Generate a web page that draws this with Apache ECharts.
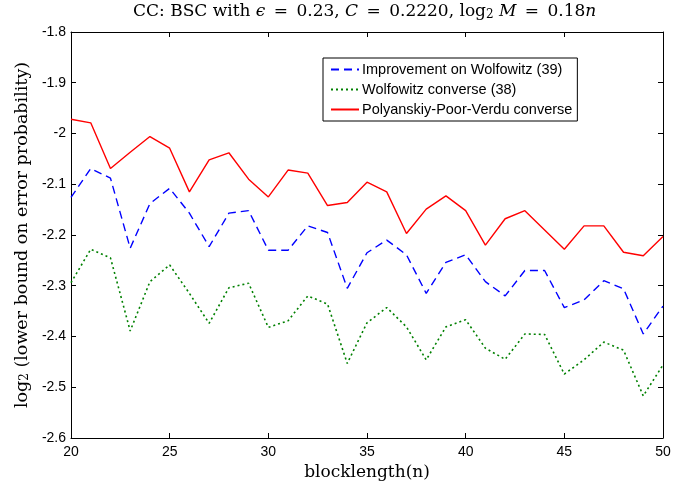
<!DOCTYPE html>
<html>
<head>
<meta charset="utf-8">
<script src="https://cdn.jsdelivr.net/npm/echarts@6/dist/echarts.min.js"></script>
<style>
html,body{margin:0;padding:0;background:#fff;}
#chart{width:697px;height:486px;}
</style>
</head>
<body>
<div id="chart"></div>
<script>
var blocklength = [20,21,22,23,24,25,26,27,28,29,30,31,32,33,34,35,36,37,38,39,40,41,42,43,44,45,46,47,48,49,50];
var improvement = [-2.126,-2.069,-2.088,-2.226,-2.138,-2.108,-2.157,-2.223,-2.157,-2.152,-2.230,-2.230,-2.182,-2.195,-2.305,-2.235,-2.210,-2.239,-2.315,-2.254,-2.239,-2.292,-2.320,-2.270,-2.270,-2.343,-2.328,-2.290,-2.306,-2.395,-2.340];
var wolfowitz = [-2.294,-2.228,-2.245,-2.389,-2.292,-2.259,-2.315,-2.374,-2.304,-2.295,-2.382,-2.369,-2.320,-2.336,-2.453,-2.373,-2.343,-2.381,-2.446,-2.381,-2.367,-2.423,-2.445,-2.395,-2.396,-2.474,-2.446,-2.411,-2.427,-2.517,-2.456];
var ppv = [-1.972,-1.979,-2.069,-2.037,-2.006,-2.029,-2.115,-2.052,-2.038,-2.090,-2.125,-2.072,-2.078,-2.142,-2.136,-2.096,-2.115,-2.197,-2.149,-2.123,-2.152,-2.220,-2.168,-2.152,-2.190,-2.228,-2.182,-2.182,-2.234,-2.241,-2.203];
var seriesNames = ['Improvement on Wolfowitz (39)','Wolfowitz converse (38)','Polyanskiy-Poor-Verdu converse'];

function pairs(ys){ return blocklength.map(function(x,i){ return [x, ys[i]]; }); }

var serif = 'DejaVu Serif';
var sans = 'Liberation Sans';
var axisCommon = {
  axisLine:{show:true,onZero:false,lineStyle:{color:'#000',width:1}},
  axisTick:{show:true,inside:true,length:5,lineStyle:{color:'#000',width:1}},
  splitLine:{show:false}
};
var chart = echarts.init(document.getElementById('chart'));
chart.setOption({
  animation:false,
  backgroundColor:'#fff',
  title:{
    text:'{n|CC: BSC with }{i|ϵ}{n| }{e|=}{n| 0.23, }{i|C}{n| }{e|=}{n| 0.2220, log}{s|2}{n| }{i|M}{n| }{e|=}{n| 0.18}{i|n}',
    left:133, top:3, padding:0,
    textStyle:{
      fontWeight:'normal',
      rich:{
        n:{fontFamily:serif,fontSize:17,fontWeight:'normal',color:'#000'},
        e:{fontFamily:serif,fontSize:17,fontWeight:'normal',color:'#000',padding:[0,3,0,3]},
        i:{fontFamily:serif,fontSize:17,fontWeight:'normal',fontStyle:'italic',color:'#000'},
        s:{fontFamily:serif,fontSize:12,fontWeight:'normal',color:'#000',verticalAlign:'bottom',padding:[6,0,0,0]}
      }
    }
  },
  legend:{
    orient:'vertical', left:323, top:58,
    backgroundColor:'#fff', borderColor:'#000', borderWidth:1, borderRadius:0,
    padding:[4,5,4,7], itemWidth:28, itemHeight:14, itemGap:5,
    itemStyle:{opacity:0},
    textStyle:{fontFamily:sans,fontSize:14.5,color:'#000',padding:[0,0,0,-2]},
    data:seriesNames
  },
  grid:{left:71,top:32,right:34,bottom:48,containLabel:false},
  xAxis:[
    Object.assign({type:'value',position:'bottom',min:20,max:50,interval:5,
      name:'blocklength(n)',nameLocation:'middle',nameGap:22,
      nameTextStyle:{fontFamily:serif,fontSize:17,color:'#000'},
      axisLabel:{fontFamily:sans,fontSize:14,color:'#000',margin:7}},axisCommon),
    Object.assign({type:'value',position:'top',min:20,max:50,interval:5,
      axisLabel:{show:false}},axisCommon)
  ],
  yAxis:[
    Object.assign({type:'value',position:'left',min:-2.6,max:-1.8,interval:0.1,
      name:'{n|log}{s|2}{n| (lower bound on error probability)}',nameLocation:'middle',nameGap:23,nameRotate:90,
      nameTextStyle:{rich:{
        n:{fontFamily:serif,fontSize:17.5,color:'#000'},
        s:{fontFamily:serif,fontSize:12,color:'#000',verticalAlign:'bottom',padding:[6,0,0,0]}
      }},
      axisLabel:{fontFamily:sans,fontSize:14,color:'#000',margin:5}},axisCommon),
    Object.assign({type:'value',position:'right',min:-2.6,max:-1.8,interval:0.1,
      axisLabel:{show:false}},axisCommon)
  ],
  series:[
    {name:seriesNames[0],type:'line',data:pairs(improvement),showSymbol:false,symbol:'none',
     lineStyle:{color:'#0000ff',width:1.4,type:[8,5]},itemStyle:{color:'#0000ff'}},
    {name:seriesNames[1],type:'line',data:pairs(wolfowitz),showSymbol:false,symbol:'none',
     lineStyle:{color:'#008000',width:1.6,type:[2,3]},itemStyle:{color:'#008000'}},
    {name:seriesNames[2],type:'line',data:pairs(ppv),showSymbol:false,symbol:'none',
     lineStyle:{color:'#ff0000',width:1.4,type:'solid'},itemStyle:{color:'#ff0000'}}
  ]
});
</script>
</body>
</html>
